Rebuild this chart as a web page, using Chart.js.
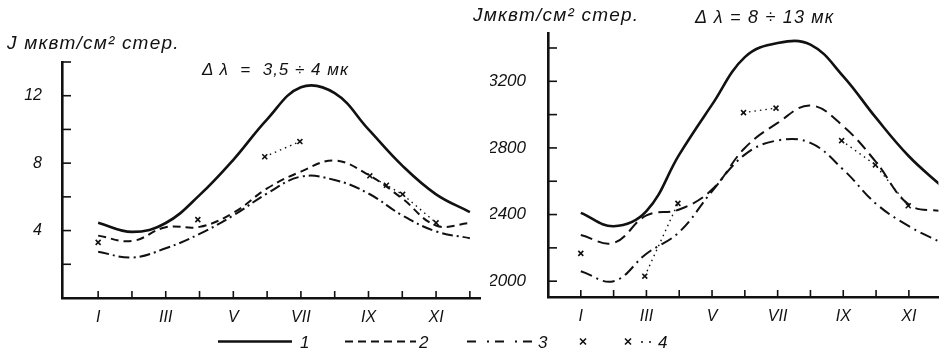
<!DOCTYPE html>
<html>
<head>
<meta charset="utf-8">
<script src="https://cdn.jsdelivr.net/npm/chart.js@4.4.1/dist/chart.umd.min.js"></script>
<style>
  body { margin: 0; background: #fff; }
  #wrap { position: relative; width: 944px; height: 352px; overflow: hidden; font-family: "Liberation Sans", Arial, sans-serif; font-style: italic; color: #111; }
  canvas { position: absolute; top: 0; }
  .lbl { position: absolute; white-space: nowrap; }
</style>
</head>
<body>
<div id="wrap">
  <canvas id="left" width="490" height="352" style="left:0"></canvas>
  <canvas id="right" width="454" height="352" style="left:490px"></canvas>
  <div class="lbl" style="left:7px;top:32px;font-size:19px;letter-spacing:1.2px">J мквт/см² стер.</div>
  <div class="lbl" style="left:202px;top:60px;font-size:17px;letter-spacing:1px">Δ λ &nbsp;= &nbsp;3,5 ÷ 4 мк</div>
  <div class="lbl" style="left:473px;top:4px;font-size:19px;letter-spacing:1.2px">Jмквт/см² стер.</div>
  <div class="lbl" style="left:695px;top:7px;font-size:18px;letter-spacing:1.2px">Δ λ = 8 ÷ 13 мк</div>
  <svg class="lbl" style="left:0;top:320px" width="944" height="32">
    <g stroke="#111" fill="none">
      <line x1="218" y1="21.5" x2="292" y2="21.5" stroke-width="2.4"/>
      <line x1="345" y1="21.5" x2="416" y2="21.5" stroke-width="2" stroke-dasharray="8 5"/>
      <line x1="467" y1="21.5" x2="536" y2="21.5" stroke-width="2" stroke-dasharray="9 11 2 6"/>
      <path d="M580 18.5 L586 24.5 M586 18.5 L580 24.5" stroke-width="1.6"/>
      <path d="M625 18.5 L631 24.5 M631 18.5 L625 24.5" stroke-width="1.6"/>
    </g>
    <circle cx="642" cy="22" r="1" fill="#111"/>
    <circle cx="650" cy="22" r="1" fill="#111"/>
    <g fill="#111" font-family="Liberation Sans, Arial, sans-serif" font-style="italic" font-size="17">
      <text x="300" y="28">1</text>
      <text x="419" y="28">2</text>
      <text x="538" y="28">3</text>
      <text x="658" y="28">4</text>
    </g>
  </svg>
</div>
<script>
const ink = '#111';

// months, I = 1 ... XII = 12
const months = [1, 2, 3, 4, 5, 6, 7, 8, 9, 10, 11, 12];
const monthLabels = ['', 'I', '', 'III', '', 'V', '', 'VII', '', 'IX', '', 'XI', ''];

// left panel: Δλ = 3,5÷4 мк
const leftYTicks = [0, 2, 4, 6, 8, 10, 12, 14];
const leftYLabels = [4, 8, 12];
const leftCurve1 = [4.46, 3.92, 4.45, 6.1, 8.2, 10.6, 12.5, 12.15, 10.0, 7.85, 6.15, 5.1];
const leftCurve2 = [3.7, 3.38, 4.2, 4.22, 5.05, 6.5, 7.5, 8.15, 7.3, 5.9, 4.3, 4.45];
const leftCurve3 = [2.75, 2.4, 2.95, 3.8, 4.9, 6.2, 7.2, 7.0, 6.2, 4.9, 3.95, 3.55];
const leftCrossMonths = [1, 1, 3.95, 3.95, 5.93, 6.97, 6.97, 9.04, 9.53, 10.01, 11];
const leftCrossValues = [3.3, null, 4.65, null, 8.38, 9.28, null, 7.25, 6.69, 6.15, 4.46];

// right panel: Δλ = 8÷13 мк
const rightYTicks = [2000, 2200, 2400, 2600, 2800, 3000, 3200, 3400];
const rightYLabels = [2000, 2400, 2800, 3200];
const rightCurve1 = [2410, 2330, 2420, 2760, 3060, 3345, 3430, 3420, 3230, 2980, 2750, 2570];
const rightCurve2 = [2277, 2230, 2395, 2430, 2550, 2800, 2950, 3055, 2930, 2715, 2460, 2420];
const rightCurve3 = [2060, 2000, 2165, 2295, 2540, 2760, 2845, 2830, 2670, 2465, 2330, 2230];
const rightCrossMonths = [1, 1, 2.95, 3.96, 3.96, 5.96, 6.95, 6.95, 8.95, 9.98, 10.98];
const rightCrossValues = [2167, null, 2030, 2467, null, 3012, 3039, null, 2844, 2698, 2453];

function curve(ys, dash, width) {
  return {
    data: months.map((m, i) => ({ x: m, y: ys[i] })),
    borderColor: ink, borderWidth: width, borderDash: dash,
    pointRadius: 0, tension: 0.4, fill: false
  };
}

function crosses(xs, ys) {
  return {
    data: xs.map((m, i) => ({ x: m, y: ys[i] })),
    showLine: true, spanGaps: false, tension: 0,
    borderColor: ink, borderWidth: 1.4, borderDash: [1.5, 4],
    pointStyle: 'crossRot', pointRadius: 3.5, pointBorderWidth: 1.6,
    pointBorderColor: ink, pointBackgroundColor: ink
  };
}

// ticks drawn inward from the axes, like on the original
const inwardTicks = {
  id: 'inwardTicks',
  afterDraw(chart) {
    const { ctx, chartArea: a, scales } = chart;
    ctx.save();
    ctx.strokeStyle = ink;
    ctx.lineWidth = 1.6;
    scales.x.ticks.forEach(t => {
      const px = scales.x.getPixelForValue(t.value);
      ctx.beginPath(); ctx.moveTo(px, a.bottom); ctx.lineTo(px, a.bottom - 7); ctx.stroke();
    });
    scales.y.ticks.forEach(t => {
      const py = scales.y.getPixelForValue(t.value);
      if (py > a.bottom - 4) return;
      ctx.beginPath(); ctx.moveTo(a.left, py); ctx.lineTo(a.left + 9, py); ctx.stroke();
    });
    ctx.restore();
  }
};

function makeChart(id, sets, o) {
  return new Chart(document.getElementById(id), {
    type: 'line',
    data: { datasets: sets },
    plugins: [inwardTicks],
    options: {
      responsive: false,
      animation: false,
      layout: { padding: o.pad },
      plugins: { legend: { display: false }, tooltip: { enabled: false } },
      scales: {
        x: {
          type: 'linear', min: o.xMin, max: o.xMax,
          afterBuildTicks: s => { s.ticks = o.xTicks.map(v => ({ value: v })); },
          afterFit: s => { s.height = 30; },
          grid: { display: false, drawTicks: false },
          border: { display: true, color: ink, width: 2.6 },
          ticks: {
            autoSkip: false, maxRotation: 0, padding: 10, color: ink,
            font: { family: 'Liberation Sans', style: 'italic', size: 16 },
            callback: v => monthLabels[v] || ''
          }
        },
        y: {
          min: o.yMin, max: o.yMax,
          afterBuildTicks: s => { s.ticks = o.yTicks.map(v => ({ value: v })); },
          afterFit: s => { s.width = o.yWidth; },
          grid: { display: false, drawTicks: false },
          border: { display: true, color: ink, width: 2.6 },
          ticks: {
            padding: o.yPad, color: ink,
            font: { family: 'Liberation Sans', style: 'italic', size: o.yFont },
            callback: v => o.yLabels.includes(v) ? String(v) : ''
          }
        }
      }
    }
  });
}

makeChart('left', [
  curve(leftCurve1, [], 2.6),
  curve(leftCurve2, [8, 5], 2),
  curve(leftCurve3, [11, 4, 2, 4], 2),
  crosses(leftCrossMonths, leftCrossValues)
], {
  pad: { top: 62, right: 10, bottom: 24, left: 0 },
  xMin: -0.07, xMax: 12.3, xTicks: months,
  yMin: 0, yMax: 14, yTicks: leftYTicks, yLabels: leftYLabels,
  yWidth: 62, yPad: 20, yFont: 16
});

makeChart('right', [
  curve(rightCurve1, [], 2.6),
  curve(rightCurve2, [12, 6], 2),
  curve(rightCurve3, [12, 5, 2, 5], 2),
  crosses(rightCrossMonths, rightCrossValues)
], {
  pad: { top: 33, right: 0, bottom: 25, left: 0 },
  xMin: 0, xMax: 11.9, xTicks: months.slice(0, 11),
  yMin: 1905, yMax: 3490, yTicks: rightYTicks, yLabels: rightYLabels,
  yWidth: 58, yPad: 22, yFont: 17
});
</script>
</body>
</html>
